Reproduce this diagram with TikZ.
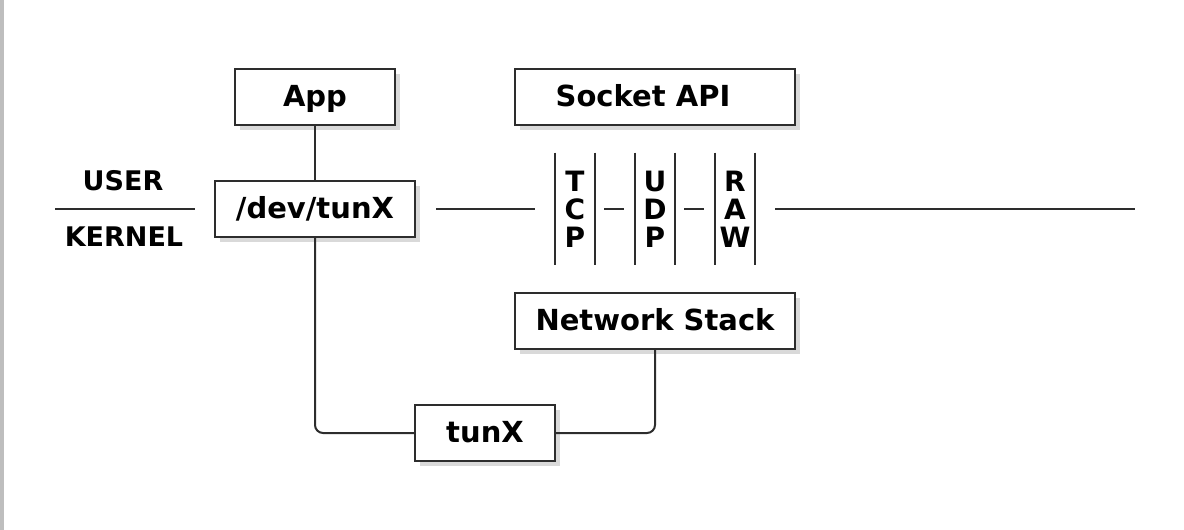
\documentclass[tikz,border=0pt]{standalone}
\usepackage{fontspec}
\setmainfont{DejaVu Sans}
\usetikzlibrary{shadows}
\definecolor{WireGray}{RGB}{45,45,45}
\definecolor{FrameGray}{RGB}{190,190,190}

\begin{document}
\begin{tikzpicture}[x=0.5pt,y=-0.5pt,font=\fontsize{14.5}{17}\selectfont\bfseries,
  box/.style={draw=WireGray,line width=1pt,fill=white,minimum height=28pt,inner sep=0pt,text height=12.5pt,text depth=3pt,drop shadow={shadow xshift=2.5pt,shadow yshift=-2.5pt,opacity=0.3}},
  wire/.style={draw=WireGray,line width=1pt,rounded corners=4pt},
  side/.style={font=\fontsize{13.5}{16}\selectfont\bfseries},
  proto/.style={minimum width=20pt,minimum height=56pt,inner sep=0pt,align=center,font=\fontsize{14}{14}\selectfont\bfseries}]
\useasboundingbox (0,0) rectangle (1184,530);
\fill[FrameGray] (0,0) rectangle (4,530);
% user / kernel split
\node[side] (user) at (123,181) {USER};\node[side] (kernel) at (124,237) {KERNEL};
\coordinate (splitl) at (55,209);\coordinate (splitr) at (195,209);
\draw[wire] (splitl) -- (splitr);
% boxes
\node[box,minimum width=80pt] (app) at (315,97) {App};
\node[box,minimum width=140pt] (sock) at (655,97) {\hspace*{-12pt}Socket API};
\node[box,minimum width=100pt] (devtun) at (315,209) {/dev/tunX};
\node[box,minimum width=140pt] (netstack) at (655,321) {Network Stack};
\node[box,minimum width=70pt] (tun) at (485,433) {tunX};
% protocol columns
\node[proto] (tcp) at (575,209) {T\\C\\P};\node[proto] (udp) at (655,209) {U\\D\\P};\node[proto] (raw) at (735,209) {R\\A\\W};
\foreach \p in {tcp,udp,raw}{\draw[wire] (\p.north west) -- (\p.south west);\draw[wire] (\p.north east) -- (\p.south east);}
\coordinate (netend) at (1135,209);
% connectors
\draw[wire] (app) -- (devtun);
\draw[wire] (devtun.south) |- (tun.west);
\draw[wire] (tun.east) -| (netstack.south);
\draw[wire,shorten <=10pt,shorten >=10pt] (devtun.east) -- (tcp.west);
\draw[wire,shorten <=4.5pt,shorten >=5.5pt] (tcp.east) -- (udp.west);
\draw[wire,shorten <=4.5pt,shorten >=5.5pt] (udp.east) -- (raw.west);
\draw[wire,shorten <=10pt] (raw.east) -- (netend);
\end{tikzpicture}
\end{document}
